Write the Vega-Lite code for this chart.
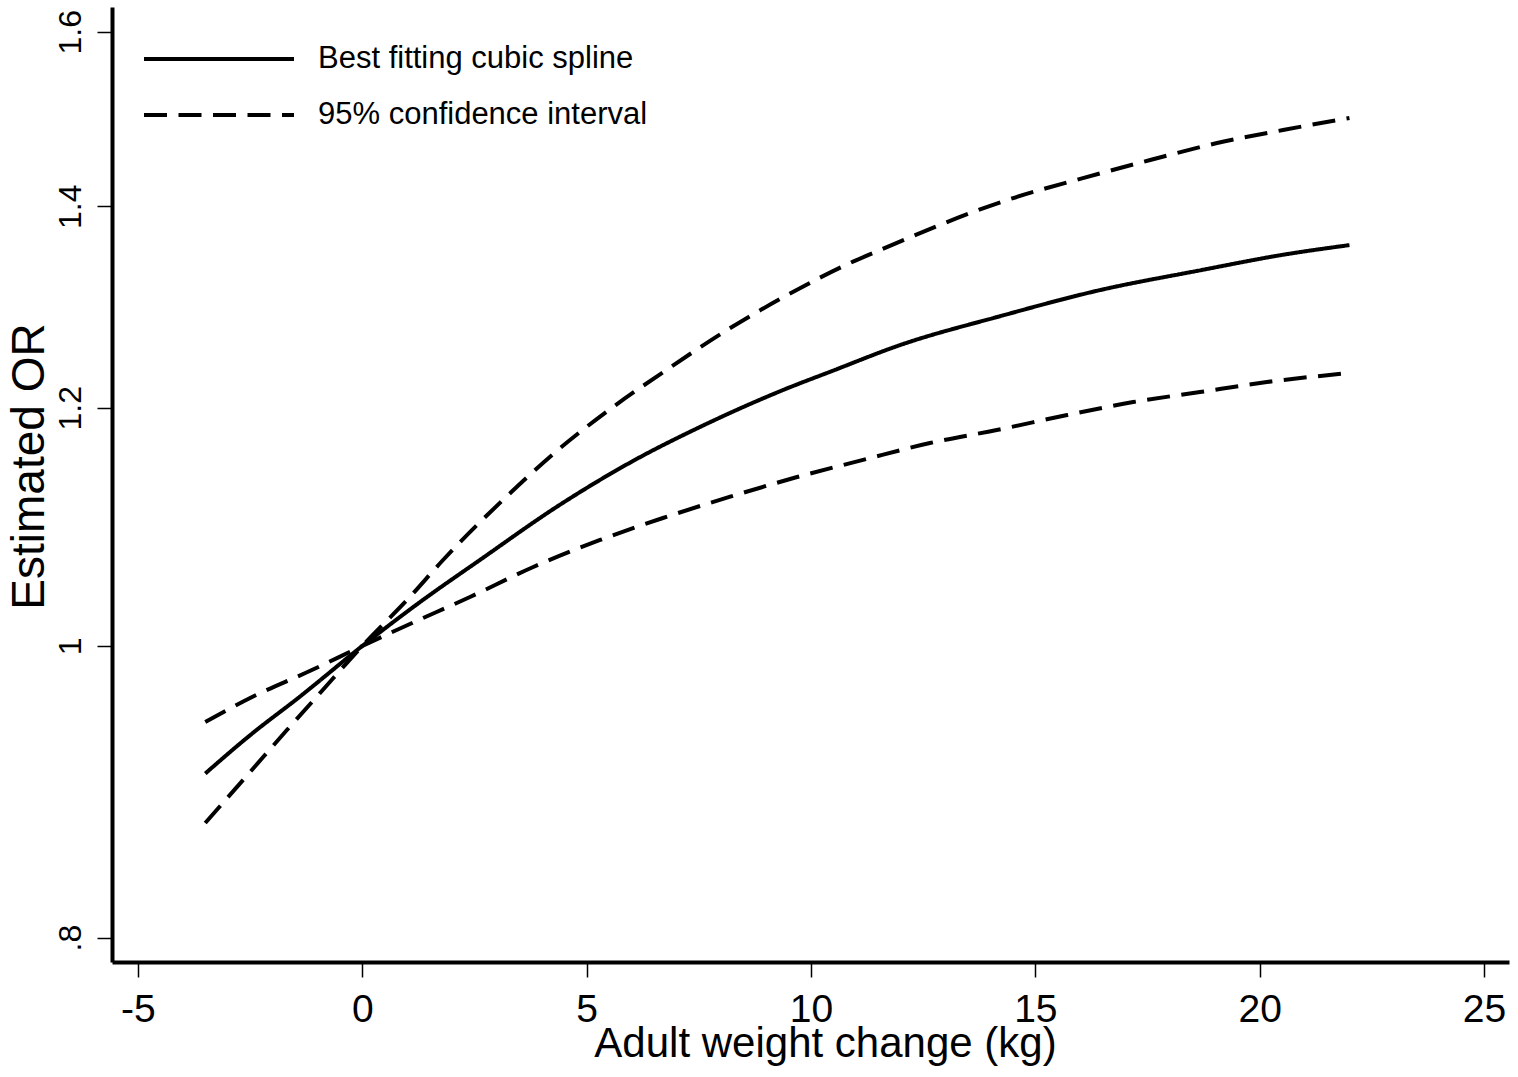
{
  "$schema": "https://vega.github.io/schema/vega-lite/v6.json",
  "width": 1397,
  "height": 955,
  "autosize": {"type": "none"},
  "padding": {"left": 112, "top": 7, "right": 9, "bottom": 115},
  "background": "white",
  "config": {
    "view": {"stroke": null},
    "font": "Liberation Sans",
    "axis": {"grid": false, "domainColor": "black", "tickColor": "black", "labelColor": "black", "titleColor": "black", "titleFontWeight": "normal", "labelFlush": false, "labelOverlap": false}
  },
  "data": {
    "values": [
      {"line": "spline", "type": "Best fitting cubic spline", "x": -3.5, "or": 0.907},
      {"line": "spline", "type": "Best fitting cubic spline", "x": -2.5, "or": 0.934},
      {"line": "spline", "type": "Best fitting cubic spline", "x": -1.39, "or": 0.962},
      {"line": "spline", "type": "Best fitting cubic spline", "x": 0, "or": 1.0},
      {"line": "spline", "type": "Best fitting cubic spline", "x": 1.28, "or": 1.034},
      {"line": "spline", "type": "Best fitting cubic spline", "x": 2.62, "or": 1.068},
      {"line": "spline", "type": "Best fitting cubic spline", "x": 4.4, "or": 1.114},
      {"line": "spline", "type": "Best fitting cubic spline", "x": 6.03, "or": 1.152},
      {"line": "spline", "type": "Best fitting cubic spline", "x": 7.53, "or": 1.1825},
      {"line": "spline", "type": "Best fitting cubic spline", "x": 9.38, "or": 1.2164},
      {"line": "spline", "type": "Best fitting cubic spline", "x": 10.49, "or": 1.2345},
      {"line": "spline", "type": "Best fitting cubic spline", "x": 11.99, "or": 1.259},
      {"line": "spline", "type": "Best fitting cubic spline", "x": 14.21, "or": 1.287},
      {"line": "spline", "type": "Best fitting cubic spline", "x": 16.44, "or": 1.313},
      {"line": "spline", "type": "Best fitting cubic spline", "x": 18.67, "or": 1.333},
      {"line": "spline", "type": "Best fitting cubic spline", "x": 20.52, "or": 1.349},
      {"line": "spline", "type": "Best fitting cubic spline", "x": 22, "or": 1.359},

      {"line": "ci_a", "type": "95% confidence interval", "x": -3.5, "or": 0.8733},
      {"line": "ci_a", "type": "95% confidence interval", "x": -2.5, "or": 0.9081},
      {"line": "ci_a", "type": "95% confidence interval", "x": -1.68, "or": 0.9377},
      {"line": "ci_a", "type": "95% confidence interval", "x": -0.94, "or": 0.9647},
      {"line": "ci_a", "type": "95% confidence interval", "x": 0, "or": 1.0},
      {"line": "ci_a", "type": "95% confidence interval", "x": 1.06, "or": 1.0382},
      {"line": "ci_a", "type": "95% confidence interval", "x": 1.8, "or": 1.068},
      {"line": "ci_a", "type": "95% confidence interval", "x": 3.18, "or": 1.1199},
      {"line": "ci_a", "type": "95% confidence interval", "x": 4.36, "or": 1.1618},
      {"line": "ci_a", "type": "95% confidence interval", "x": 5.59, "or": 1.2007},
      {"line": "ci_a", "type": "95% confidence interval", "x": 6.79, "or": 1.2355},
      {"line": "ci_a", "type": "95% confidence interval", "x": 8.13, "or": 1.2735},
      {"line": "ci_a", "type": "95% confidence interval", "x": 9.47, "or": 1.308},
      {"line": "ci_a", "type": "95% confidence interval", "x": 10.87, "or": 1.3405},
      {"line": "ci_a", "type": "95% confidence interval", "x": 11.54, "or": 1.3539},
      {"line": "ci_a", "type": "95% confidence interval", "x": 14.37, "or": 1.4067},
      {"line": "ci_a", "type": "95% confidence interval", "x": 16.06, "or": 1.4305},
      {"line": "ci_a", "type": "95% confidence interval", "x": 17.56, "or": 1.4504},
      {"line": "ci_a", "type": "95% confidence interval", "x": 19.05, "or": 1.4694},
      {"line": "ci_a", "type": "95% confidence interval", "x": 20.52, "or": 1.4841},
      {"line": "ci_a", "type": "95% confidence interval", "x": 22, "or": 1.4978},

      {"line": "ci_b", "type": "95% confidence interval", "x": -3.5, "or": 0.9435},
      {"line": "ci_b", "type": "95% confidence interval", "x": -2.5, "or": 0.961},
      {"line": "ci_b", "type": "95% confidence interval", "x": -1.16, "or": 0.9812},
      {"line": "ci_b", "type": "95% confidence interval", "x": 0, "or": 1.0},
      {"line": "ci_b", "type": "95% confidence interval", "x": 1.0, "or": 1.016},
      {"line": "ci_b", "type": "95% confidence interval", "x": 2.4, "or": 1.0382},
      {"line": "ci_b", "type": "95% confidence interval", "x": 3.81, "or": 1.0623},
      {"line": "ci_b", "type": "95% confidence interval", "x": 5.3, "or": 1.0845},
      {"line": "ci_b", "type": "95% confidence interval", "x": 6.7, "or": 1.1029},
      {"line": "ci_b", "type": "95% confidence interval", "x": 8.2, "or": 1.121},
      {"line": "ci_b", "type": "95% confidence interval", "x": 9.69, "or": 1.138},
      {"line": "ci_b", "type": "95% confidence interval", "x": 11.16, "or": 1.153},
      {"line": "ci_b", "type": "95% confidence interval", "x": 12.65, "or": 1.168},
      {"line": "ci_b", "type": "95% confidence interval", "x": 14.14, "or": 1.1797},
      {"line": "ci_b", "type": "95% confidence interval", "x": 15.71, "or": 1.1933},
      {"line": "ci_b", "type": "95% confidence interval", "x": 17.18, "or": 1.2052},
      {"line": "ci_b", "type": "95% confidence interval", "x": 18.67, "or": 1.2145},
      {"line": "ci_b", "type": "95% confidence interval", "x": 20.16, "or": 1.2238},
      {"line": "ci_b", "type": "95% confidence interval", "x": 22, "or": 1.2323}
    ]
  },
  "mark": {"type": "line", "interpolate": "monotone", "strokeWidth": 4, "color": "black"},
  "encoding": {
    "x": {
      "field": "x", "type": "quantitative",
      "scale": {"domain": [-5.578, 25.556], "nice": false, "zero": false},
      "axis": {
        "values": [-5, 0, 5, 10, 15, 20, 25],
        "labelExpr": "datum.value < 0 ? '-' + format(-datum.value, 'd') : format(datum.value, 'd')",
        "labelFontSize": 39, "labelPadding": 13,
        "tickSize": 15, "tickWidth": 1.5, "domainWidth": 4,
        "title": "Adult weight change (kg)", "titleFontSize": 42,
        "titleX": 713, "titleY": 94, "titleBaseline": "alphabetic", "titleAlign": "center"
      }
    },
    "y": {
      "field": "or", "type": "quantitative",
      "scale": {"type": "log", "domain": [0.7852, 1.6306], "nice": false},
      "axis": {
        "values": [0.8, 1, 1.2, 1.4, 1.6],
        "labelExpr": "datum.value < 0.9 ? '.8' : format(datum.value, '~g')",
        "labelAngle": -90, "labelAlign": "center", "labelBaseline": "alphabetic",
        "labelFontSize": 32, "labelPadding": 17,
        "tickSize": 15, "tickWidth": 1.5, "domainWidth": 4,
        "title": "Estimated OR", "titleFontSize": 46, "titleAngle": -90,
        "titleX": -69, "titleY": 459, "titleBaseline": "alphabetic", "titleAlign": "center"
      }
    },
    "detail": {"field": "line"},
    "strokeDash": {
      "field": "type", "type": "nominal",
      "scale": {"domain": ["Best fitting cubic spline", "95% confidence interval"], "range": [[1, 0], [23, 11.5]]},
      "legend": {
        "title": null, "orient": "none", "legendX": 90, "legendY": 35,
        "symbolType": "M-5,0H5", "symbolSize": 900, "symbolStrokeWidth": 4, "symbolStrokeColor": "black",
        "labelFontSize": 31, "labelOffset": 82, "labelColor": "black", "labelLimit": 0,
        "rowPadding": 24, "padding": 0
      }
    }
  }
}
